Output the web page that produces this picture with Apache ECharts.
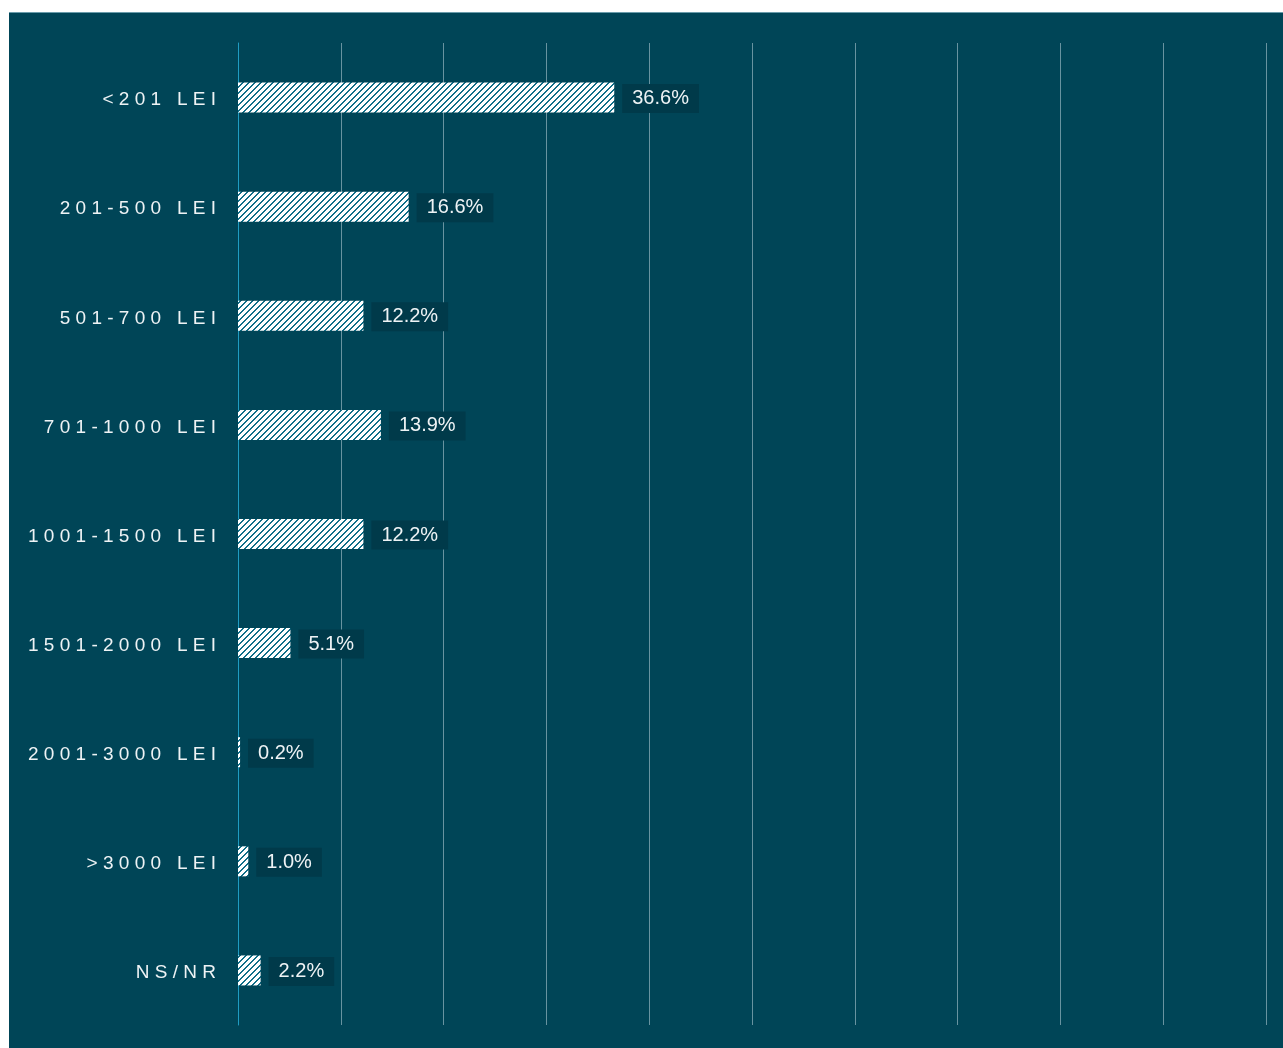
<!DOCTYPE html>
<html>
<head>
<meta charset="utf-8">
<script src="https://cdn.jsdelivr.net/npm/echarts@6/dist/echarts.min.js"></script>
<style>
html,body{margin:0;padding:0;background:#ffffff;}
#chart{width:1283px;height:1048px;}
</style>
</head>
<body>
<div id="chart"></div>
<script>
const categories = ['<201 LEI','201-500 LEI','501-700 LEI','701-1000 LEI','1001-1500 LEI','1501-2000 LEI','2001-3000 LEI','>3000 LEI','NS/NR'];
const values = [36.6, 16.6, 12.2, 13.9, 12.2, 5.1, 0.2, 1.0, 2.2];
const valueTicks = [0, 10, 20, 30, 40, 50, 60, 70, 80, 90, 100];

function makePattern() {
  const c = document.createElement('canvas');
  const n = 6;
  c.width = n; c.height = n;
  const ctx = c.getContext('2d');
  ctx.fillStyle = '#ffffff';
  ctx.fillRect(0, 0, n, n);
  ctx.fillStyle = '#116f89';
  for (let y = 0; y < n; y++) {
    for (let x = 0; x < n; x++) {
      const k = (x + y) % n;
      if (k === 0 || k === 1) ctx.fillRect(x, y, 1, 1);
    }
  }
  return c;
}

const chart = echarts.init(document.getElementById('chart'), null, {renderer: 'canvas'});
const option = {
  backgroundColor: '#ffffff',
  animation: false,
  graphic: [
    {type: 'rect', shape: {x: 9, y: 12, width: 1274, height: 1036}, style: {fill: '#004557'}, z: -10},
    {type: 'rect', shape: {x: 9, y: 12, width: 1274, height: 1}, style: {fill: '#6a9cab'}, z: -9}
  ],
  grid: {left: 238, right: 17, top: 43, bottom: 23, containLabel: false},
  xAxis: {
    type: 'value',
    min: valueTicks[0],
    max: valueTicks[valueTicks.length - 1],
    interval: 10,
    axisLabel: {show: false},
    axisTick: {show: false},
    axisLine: {show: false},
    splitLine: {show: true, lineStyle: {color: '#6893a0', width: 1}}
  },
  yAxis: {
    type: 'category',
    inverse: true,
    data: categories,
    axisTick: {show: false},
    axisLine: {show: true, lineStyle: {color: '#1f9cc2', width: 1}},
    axisLabel: {
      color: '#eef3f5',
      fontFamily: 'Liberation Sans, Arial, sans-serif',
      fontSize: 19,
      margin: 22,
      formatter: v => '{a|' + v.split('').join(' ') + '}',
      rich: {
        a: {
          color: '#eef3f5',
          fontFamily: 'Liberation Sans, Arial, sans-serif',
          fontSize: 19,
          padding: [5, 0, 0, 0]
        }
      }
    }
  },
  series: [{
    type: 'bar',
    data: values,
    barWidth: 30,
    itemStyle: {color: {image: makePattern(), repeat: 'repeat'}},
    label: {
      show: true,
      position: 'right',
      distance: 8,
      offset: [0, 1],
      formatter: p => p.value.toFixed(1) + '%',
      color: '#eef3f5',
      fontFamily: 'Liberation Sans, Arial, sans-serif',
      fontSize: 20,
      lineHeight: 20,
      backgroundColor: '#003a4a',
      padding: [6, 10, 3, 10]
    }
  }]
};
chart.setOption(option);
</script>
</body>
</html>
